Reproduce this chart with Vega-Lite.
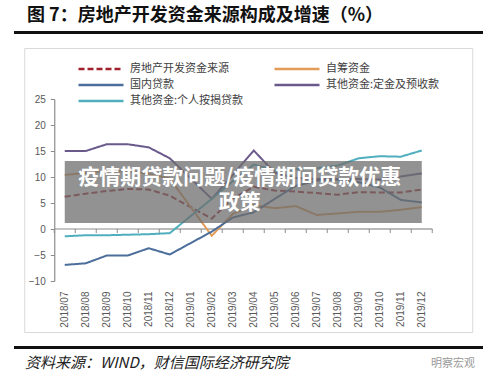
{
  "$schema": "https://vega.github.io/schema/vega-lite/v6.json",
  "background": "white",
  "padding": {"left": 14, "top": 7, "right": 10, "bottom": 4},
  "config": {"view": {"stroke": null}, "font": "Noto Sans CJK SC"},
  "spacing": 13,
  "center": true,
  "vconcat": [
    {
      "width": 469,
      "height": 3,
      "view": {"fill": "#111111", "stroke": null},
      "title": {"text": "图 7：房地产开发资金来源构成及增速（%）", "anchor": "start", "fontSize": 18, "fontWeight": "bold", "font": "Noto Sans CJK SC", "color": "#111111", "dx": 13, "offset": 6},
      "data": {"values": [{}]},
      "mark": {"type": "rect", "opacity": 0},
      "encoding": {}
    },
    {
      "width": 448,
      "height": 284,
      "view": {"stroke": "#d9d9d9", "strokeWidth": 1, "fill": "white"},
      "data": {"values": [
        {"month": "2018/07", "series": "房地产开发资金来源", "value": 6.2},
        {"month": "2018/08", "series": "房地产开发资金来源", "value": 6.8},
        {"month": "2018/09", "series": "房地产开发资金来源", "value": 7.3},
        {"month": "2018/10", "series": "房地产开发资金来源", "value": 7.7},
        {"month": "2018/11", "series": "房地产开发资金来源", "value": 7.6},
        {"month": "2018/12", "series": "房地产开发资金来源", "value": 6.4},
        {"month": "2019/02", "series": "房地产开发资金来源", "value": 2.0},
        {"month": "2019/03", "series": "房地产开发资金来源", "value": 5.9},
        {"month": "2019/04", "series": "房地产开发资金来源", "value": 8.1},
        {"month": "2019/05", "series": "房地产开发资金来源", "value": 7.4},
        {"month": "2019/06", "series": "房地产开发资金来源", "value": 7.2},
        {"month": "2019/07", "series": "房地产开发资金来源", "value": 6.9},
        {"month": "2019/08", "series": "房地产开发资金来源", "value": 6.6},
        {"month": "2019/09", "series": "房地产开发资金来源", "value": 7.1},
        {"month": "2019/10", "series": "房地产开发资金来源", "value": 7.0},
        {"month": "2019/11", "series": "房地产开发资金来源", "value": 7.0},
        {"month": "2019/12", "series": "房地产开发资金来源", "value": 7.6},
        {"month": "2018/07", "series": "自筹资金", "value": 10.4},
        {"month": "2018/08", "series": "自筹资金", "value": 10.8},
        {"month": "2018/09", "series": "自筹资金", "value": 11.2},
        {"month": "2018/10", "series": "自筹资金", "value": 11.1},
        {"month": "2018/11", "series": "自筹资金", "value": 10.6},
        {"month": "2018/12", "series": "自筹资金", "value": 9.7},
        {"month": "2019/02", "series": "自筹资金", "value": -1.3},
        {"month": "2019/03", "series": "自筹资金", "value": 2.9},
        {"month": "2019/04", "series": "自筹资金", "value": 4.6},
        {"month": "2019/05", "series": "自筹资金", "value": 4.0},
        {"month": "2019/06", "series": "自筹资金", "value": 4.4},
        {"month": "2019/07", "series": "自筹资金", "value": 2.7},
        {"month": "2019/08", "series": "自筹资金", "value": 3.0},
        {"month": "2019/09", "series": "自筹资金", "value": 3.3},
        {"month": "2019/10", "series": "自筹资金", "value": 3.3},
        {"month": "2019/11", "series": "自筹资金", "value": 3.7},
        {"month": "2019/12", "series": "自筹资金", "value": 4.2},
        {"month": "2018/07", "series": "国内贷款", "value": -6.9},
        {"month": "2018/08", "series": "国内贷款", "value": -6.6},
        {"month": "2018/09", "series": "国内贷款", "value": -5.1},
        {"month": "2018/10", "series": "国内贷款", "value": -5.1},
        {"month": "2018/11", "series": "国内贷款", "value": -3.7},
        {"month": "2018/12", "series": "国内贷款", "value": -4.9},
        {"month": "2019/02", "series": "国内贷款", "value": -0.5},
        {"month": "2019/03", "series": "国内贷款", "value": 2.2},
        {"month": "2019/04", "series": "国内贷款", "value": 3.2},
        {"month": "2019/05", "series": "国内贷款", "value": 5.8},
        {"month": "2019/06", "series": "国内贷款", "value": 8.3},
        {"month": "2019/07", "series": "国内贷款", "value": 9.3},
        {"month": "2019/08", "series": "国内贷款", "value": 9.5},
        {"month": "2019/09", "series": "国内贷款", "value": 9.0},
        {"month": "2019/10", "series": "国内贷款", "value": 8.0},
        {"month": "2019/11", "series": "国内贷款", "value": 5.6},
        {"month": "2019/12", "series": "国内贷款", "value": 5.1},
        {"month": "2018/07", "series": "其他资金:定金及预收款", "value": 15.0},
        {"month": "2018/08", "series": "其他资金:定金及预收款", "value": 15.0},
        {"month": "2018/09", "series": "其他资金:定金及预收款", "value": 16.3},
        {"month": "2018/10", "series": "其他资金:定金及预收款", "value": 16.3},
        {"month": "2018/11", "series": "其他资金:定金及预收款", "value": 15.7},
        {"month": "2018/12", "series": "其他资金:定金及预收款", "value": 13.6},
        {"month": "2019/02", "series": "其他资金:定金及预收款", "value": 5.8},
        {"month": "2019/03", "series": "其他资金:定金及预收款", "value": 10.4},
        {"month": "2019/04", "series": "其他资金:定金及预收款", "value": 15.1},
        {"month": "2019/05", "series": "其他资金:定金及预收款", "value": 10.8},
        {"month": "2019/06", "series": "其他资金:定金及预收款", "value": 9.8},
        {"month": "2019/07", "series": "其他资金:定金及预收款", "value": 9.6},
        {"month": "2019/08", "series": "其他资金:定金及预收款", "value": 9.6},
        {"month": "2019/09", "series": "其他资金:定金及预收款", "value": 9.6},
        {"month": "2019/10", "series": "其他资金:定金及预收款", "value": 9.5},
        {"month": "2019/11", "series": "其他资金:定金及预收款", "value": 10.1},
        {"month": "2019/12", "series": "其他资金:定金及预收款", "value": 10.7},
        {"month": "2018/07", "series": "其他资金:个人按揭贷款", "value": -1.4},
        {"month": "2018/08", "series": "其他资金:个人按揭贷款", "value": -1.2},
        {"month": "2018/09", "series": "其他资金:个人按揭贷款", "value": -1.2},
        {"month": "2018/10", "series": "其他资金:个人按揭贷款", "value": -1.1},
        {"month": "2018/11", "series": "其他资金:个人按揭贷款", "value": -1.0},
        {"month": "2018/12", "series": "其他资金:个人按揭贷款", "value": -0.8},
        {"month": "2019/02", "series": "其他资金:个人按揭贷款", "value": 5.8},
        {"month": "2019/03", "series": "其他资金:个人按揭贷款", "value": 9.2},
        {"month": "2019/04", "series": "其他资金:个人按揭贷款", "value": 12.4},
        {"month": "2019/05", "series": "其他资金:个人按揭贷款", "value": 11.3},
        {"month": "2019/06", "series": "其他资金:个人按揭贷款", "value": 11.5},
        {"month": "2019/07", "series": "其他资金:个人按揭贷款", "value": 11.7},
        {"month": "2019/08", "series": "其他资金:个人按揭贷款", "value": 12.2},
        {"month": "2019/09", "series": "其他资金:个人按揭贷款", "value": 13.6},
        {"month": "2019/10", "series": "其他资金:个人按揭贷款", "value": 14.0},
        {"month": "2019/11", "series": "其他资金:个人按揭贷款", "value": 13.9},
        {"month": "2019/12", "series": "其他资金:个人按揭贷款", "value": 15.1}
      ]},
      "layer": [
        {
          "data": {"values": [
            {"month": "2018/07"}, {"month": "2018/08"}, {"month": "2018/09"}, {"month": "2018/10"}, {"month": "2018/11"}, {"month": "2018/12"},
            {"month": "2019/01"}, {"month": "2019/02"}, {"month": "2019/03"}, {"month": "2019/04"}, {"month": "2019/05"}, {"month": "2019/06"},
            {"month": "2019/07"}, {"month": "2019/08"}, {"month": "2019/09"}, {"month": "2019/10"}, {"month": "2019/11"}, {"month": "2019/12"}
          ]},
          "mark": {"type": "tick", "orient": "horizontal", "size": 21.2, "thickness": 1.2, "color": "#8c8c8c", "opacity": 1},
          "encoding": {
            "x": {"field": "month", "type": "ordinal", "bandPosition": 0.5,
              "scale": {"type": "band", "domain": ["2018/07","2018/08","2018/09","2018/10","2018/11","2018/12","2019/01","2019/02","2019/03","2019/04","2019/05","2019/06","2019/07","2019/08","2019/09","2019/10","2019/11","2019/12"], "range": [30, 408], "paddingInner": 0, "paddingOuter": 0},
              "axis": {"orient": "bottom", "offset": -51, "domain": false, "ticks": false, "labelAngle": 270, "labelPadding": 10, "labelFontSize": 10, "labelColor": "#595959", "labelFont": "Liberation Sans", "title": null, "grid": false, "bandPosition": 0.5, "labelOverlap": false}},
            "y": {"datum": 0, "type": "quantitative",
              "scale": {"domain": [-10, 25], "range": [233, 51], "nice": false, "zero": false},
              "axis": {"orient": "left", "offset": -30, "values": [-10, -5, 0, 5, 10, 15, 20, 25], "title": null, "grid": false, "domainColor": "#8c8c8c", "domainWidth": 1.2, "tickColor": "#8c8c8c", "tickSize": 4, "labelPadding": 5, "labelFontSize": 10, "labelColor": "#595959", "labelFont": "Liberation Sans"}}
          }
        },
        {
          "data": {"values": [
            {"month": "2018/07"}, {"month": "2018/08"}, {"month": "2018/09"}, {"month": "2018/10"}, {"month": "2018/11"}, {"month": "2018/12"},
            {"month": "2019/01"}, {"month": "2019/02"}, {"month": "2019/03"}, {"month": "2019/04"}, {"month": "2019/05"}, {"month": "2019/06"},
            {"month": "2019/07"}, {"month": "2019/08"}, {"month": "2019/09"}, {"month": "2019/10"}, {"month": "2019/11"}, {"month": "2019/12"}
          ]},
          "mark": {"type": "tick", "orient": "vertical", "size": 4, "thickness": 1, "color": "#8c8c8c", "opacity": 1, "yOffset": 2},
          "encoding": {
            "x": {"field": "month", "type": "ordinal", "bandPosition": 0},
            "y": {"datum": 0, "type": "quantitative"}
          }
        },
        {
          "data": {"values": [{"month": "2019/12"}]},
          "mark": {"type": "tick", "orient": "vertical", "size": 4, "thickness": 1, "color": "#8c8c8c", "opacity": 1, "yOffset": 2},
          "encoding": {
            "x": {"field": "month", "type": "ordinal", "bandPosition": 1},
            "y": {"datum": 0, "type": "quantitative"}
          }
        },
        {
          "mark": {"type": "line", "strokeWidth": 2},
          "encoding": {
            "x": {"field": "month", "type": "ordinal", "bandPosition": 0.5},
            "y": {"field": "value", "type": "quantitative"},
            "color": {"field": "series", "type": "nominal",
              "scale": {"domain": ["房地产开发资金来源", "国内贷款", "其他资金:个人按揭贷款", "自筹资金", "其他资金:定金及预收款"], "range": ["#A0212B", "#4B6E9A", "#4FAFBF", "#E39B57", "#6A5A8C"]},
              "legend": {"title": null, "orient": "none", "legendX": 78, "legendY": 29, "columns": 2, "columnPadding": 25, "rowPadding": 2, "symbolType": "M-3,0H3", "symbolSize": 225, "symbolStrokeWidth": 2.5, "labelFont": "Noto Sans CJK SC", "labelFontSize": 11, "labelColor": "#404040", "labelOffset": 20}},
            "strokeDash": {"field": "series", "type": "nominal",
              "scale": {"domain": ["房地产开发资金来源", "国内贷款", "其他资金:个人按揭贷款", "自筹资金", "其他资金:定金及预收款"], "range": [[6, 3], [1, 0], [1, 0], [1, 0], [1, 0]]},
              "legend": {"title": null, "orient": "none", "legendX": 78, "legendY": 29, "columns": 2, "columnPadding": 25, "rowPadding": 2, "symbolType": "M-3,0H3", "symbolSize": 225, "symbolStrokeWidth": 2.5, "labelFont": "Noto Sans CJK SC", "labelFontSize": 11, "labelColor": "#404040", "labelOffset": 20}}
          }
        },
        {
          "data": {"values": [{}]},
          "mark": {"type": "rect", "fill": "#6e6e6e", "opacity": 0.75},
          "encoding": {
            "x": {"datum": "2018/07", "type": "ordinal"},
            "x2": {"datum": "2019/12"},
            "y": {"datum": 13.1, "type": "quantitative"},
            "y2": {"datum": 1.15}
          }
        },
        {
          "data": {"values": [{}]},
          "mark": {"type": "text", "text": ["疫情期贷款问题/疫情期间贷款优惠", "政策"], "color": "white", "fontSize": 21, "fontWeight": "bold", "font": "Noto Sans CJK SC", "lineHeight": 25, "align": "center", "baseline": "middle", "dx": -14},
          "encoding": {
            "x": {"datum": "2019/04", "type": "ordinal"},
            "y": {"datum": 9.8, "type": "quantitative"}
          }
        }
      ]
    },
    {
      "spacing": 0,
      "hconcat": [
        {
          "width": 400,
          "height": 3,
          "view": {"fill": "#111111", "stroke": null},
          "title": {"text": "资料来源：WIND，财信国际经济研究院", "orient": "bottom", "anchor": "start", "fontSize": 15, "fontStyle": "italic", "fontWeight": "normal", "font": "Noto Sans CJK SC", "color": "#222222", "dx": 11, "offset": 7},
          "data": {"values": [{}]},
          "mark": {"type": "rect", "opacity": 0},
          "encoding": {}
        },
        {
          "width": 69,
          "height": 3,
          "view": {"fill": "#111111", "stroke": null},
          "title": {"text": "明察宏观", "orient": "bottom", "anchor": "end", "fontSize": 11, "fontWeight": "normal", "font": "Noto Sans CJK SC", "color": "#9a9a9a", "dx": -8, "offset": 9},
          "data": {"values": [{}]},
          "mark": {"type": "rect", "opacity": 0},
          "encoding": {}
        }
      ]
    }
  ]
}
